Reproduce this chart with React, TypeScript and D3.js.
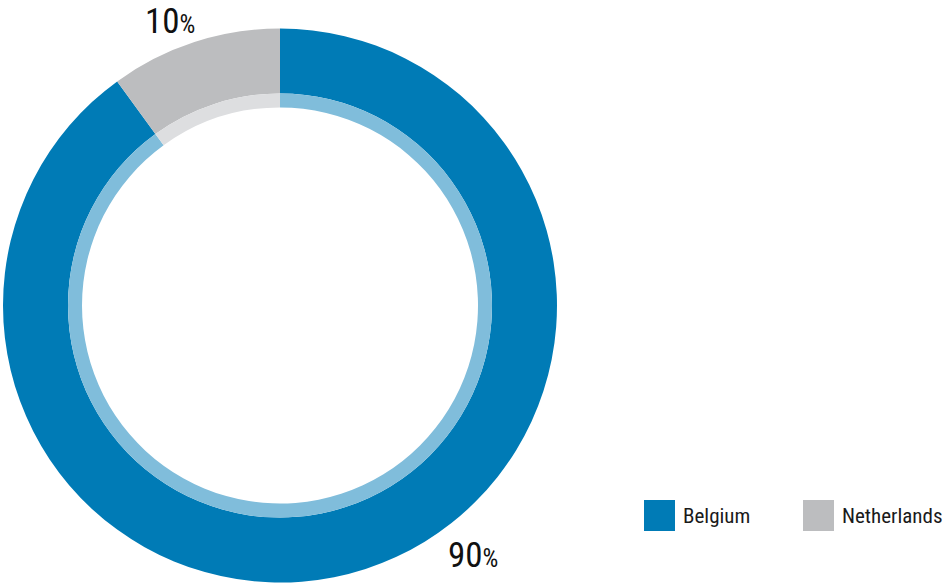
import React from "react";
import * as d3 from "d3";

const categories = ["Belgium", "Netherlands"];
const values = [90, 10];
const colors = ["#007bb6", "#bcbdbf"];
const innerColors = ["#80bddb", "#dddee0"];

const W = 949;
const H = 585;
const FONT = "'Liberation Sans Narrow', 'Roboto Condensed', 'Liberation Sans', sans-serif";

export default function App() {
  const cx = 280, cy = 305.5;
  const rOuter = 277, rMid = 212, rInner = 198;
  const pie = d3.pie<number>().sort(null).startAngle(0).endAngle(2 * Math.PI);
  const arcs = pie(values);
  const outer = d3.arc<d3.PieArcDatum<number>>().innerRadius(rMid).outerRadius(rOuter);
  const inner = d3.arc<d3.PieArcDatum<number>>().innerRadius(rInner).outerRadius(rMid);
  const labelPos = [
    { x: 448, y: 567 },
    { x: 145, y: 33 },
  ];
  return (
    <div style={{ position: "absolute", left: 0, top: 0 }}>
      <svg width={W} height={H} style={{ display: "block" }}>
        <g transform={`translate(${cx},${cy})`}>
          {arcs.map((a, i) => (
            <g key={i}>
              <path d={outer(a) || ""} fill={colors[i]} />
              <path d={inner(a) || ""} fill={innerColors[i]} />
            </g>
          ))}
        </g>
        {arcs.map((a, i) => (
          <text key={"l" + i} x={labelPos[i].x} y={labelPos[i].y} fontFamily={FONT} fill="#111">
            <tspan fontSize={35}>{values[i]}</tspan>
            <tspan fontSize={25}>%</tspan>
          </text>
        ))}
        {categories.map((c, i) => (
          <g key={"lg" + i} transform={`translate(${644 + i * 159},500)`}>
            <rect width={31} height={31} fill={colors[i]} />
            <text x={39} y={23} fontSize={21} fontFamily={FONT} fill="#1a1a1a">{c}</text>
          </g>
        ))}
      </svg>
    </div>
  );
}
